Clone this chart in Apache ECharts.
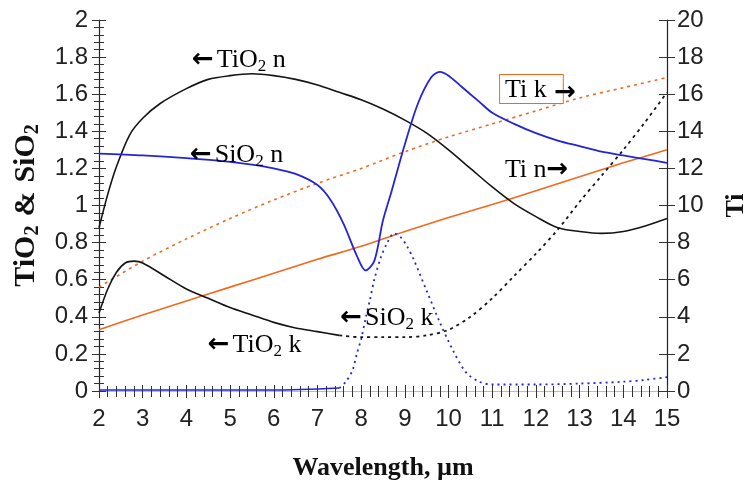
<!DOCTYPE html>
<html>
<head>
<meta charset="utf-8">
<script src="https://cdn.jsdelivr.net/npm/echarts@6/dist/echarts.min.js"></script>
<style>
  html, body { margin: 0; padding: 0; background: #fff; }
  #chart { width: 746px; height: 489px; }
</style>
</head>
<body>
<div id="chart"></div>
<script>
// Optical constants vs wavelength (µm)
// TiO2 and SiO2 on the left axis, Ti on the right axis

const tio2N = [
  [2, 0.88], [2.2, 1.06], [2.4, 1.21], [2.7, 1.38], [3, 1.47], [3.4, 1.55],
  [4, 1.63], [4.5, 1.68], [5, 1.70], [5.5, 1.71], [6, 1.70], [6.5, 1.68],
  [7, 1.65], [7.5, 1.61], [8, 1.57], [8.5, 1.52], [9, 1.46], [9.5, 1.39],
  [10, 1.30], [10.5, 1.20], [11, 1.10], [11.5, 1.01], [12, 0.94],
  [12.5, 0.88], [13, 0.86], [13.5, 0.85], [14, 0.86], [14.5, 0.89], [15, 0.93]
];

const tio2K = [
  [2, 0.42], [2.2, 0.55], [2.4, 0.64], [2.6, 0.69], [2.8, 0.70], [3, 0.69],
  [3.5, 0.62], [4, 0.55], [4.5, 0.50], [5, 0.45], [5.5, 0.41], [6, 0.37],
  [6.5, 0.34], [7, 0.32], [7.5, 0.30], [8, 0.29], [8.5, 0.29], [9, 0.29],
  [9.5, 0.30], [10, 0.33], [10.5, 0.40], [11, 0.50], [11.5, 0.62],
  [12, 0.74], [12.5, 0.87], [13, 1.02], [13.5, 1.16], [14, 1.30],
  [14.5, 1.45], [15, 1.61]
];
const tio2KSolidEnd = 7.5;

const sio2N = [
  [2, 1.28], [3, 1.27], [4, 1.255], [5, 1.235], [5.5, 1.22], [6, 1.20],
  [6.5, 1.17], [7, 1.11], [7.3, 1.03], [7.6, 0.90], [7.9, 0.73], [8.1, 0.65],
  [8.3, 0.70], [8.5, 0.92], [8.7, 1.08], [9, 1.33], [9.3, 1.55], [9.6, 1.69],
  [9.8, 1.72], [10, 1.70], [10.3, 1.64], [10.7, 1.56], [11, 1.50],
  [11.5, 1.44], [12, 1.39], [12.5, 1.35], [13, 1.32], [13.5, 1.29],
  [14, 1.27], [14.5, 1.25], [15, 1.23]
];

const sio2K = [
  [2, 0.005], [4, 0.005], [6, 0.005], [7.5, 0.016], [7.65, 0.05], [7.8, 0.11],
  [7.9, 0.20], [8, 0.28], [8.1, 0.39], [8.2, 0.49], [8.3, 0.60], [8.45, 0.72],
  [8.6, 0.80], [8.75, 0.85], [8.9, 0.83], [9.05, 0.78], [9.2, 0.71],
  [9.5, 0.54], [9.8, 0.37], [10.1, 0.22], [10.4, 0.10], [10.7, 0.05],
  [11, 0.035], [12, 0.035], [13, 0.04], [14, 0.05], [14.5, 0.06], [15, 0.075]
];
const sio2KSolidEnd = 7.5;

const tiN = [
  [2, 3.3], [3, 4.1], [4, 4.85], [5, 5.6], [6, 6.35], [7, 7.1], [8, 7.8],
  [9, 8.6], [10, 9.35], [11, 10.05], [12, 10.8], [13, 11.55], [14, 12.3], [15, 13.0]
];

const tiK = [
  [2, 5.6], [3, 7.0], [4, 8.2], [5, 9.3], [6, 10.3], [7, 11.2], [8, 12.0],
  [9, 12.9], [10, 13.7], [11, 14.4], [12, 15.1], [13, 15.8], [14, 16.35], [15, 16.9]
];

// [min, max, major step, minor step]
const xTicks = [2, 15, 1, 0.2];
const leftTicks = [0, 2, 0.2, 0.04];
const rightTicks = [0, 20, 2];

const BLACK = '#141414';
const BLUE = '#2424d8';
const ORANGE = '#f06a1e';
const SERIF = '"Liberation Serif", "Times New Roman", serif';
const SANS = '"Liberation Sans", Arial, sans-serif';

function upTo(data, xEnd) { return data.filter(p => p[0] <= xEnd); }
function from(data, xStart) { return data.filter(p => p[0] >= xStart); }

const chart = echarts.init(document.getElementById('chart'), null, { renderer: 'canvas' });

const tickLabel = { color: '#222', fontFamily: SANS, fontSize: 24 };
const axisLine = { lineStyle: { color: '#222', width: 1.2 } };
const tickLine = { color: '#333', width: 1 };

function lineSeries(name, data, color, yAxisIndex, type, width) {
  return {
    name, type: 'line', data, yAxisIndex, xAxisIndex: 0,
    showSymbol: false, symbol: 'none', smooth: 0.3,
    lineStyle: { color, width: width || 1.6, type: type || 'solid' },
    emphasis: { disabled: true }, silent: true, z: 3
  };
}

// Tick-only axis (no line, no labels), used to draw ticks on both sides of an axis line
function tickAxis(range, step, position, inside, length) {
  return {
    type: 'value', min: range[0], max: range[1], interval: step, position,
    axisLine: { show: false },
    axisTick: { show: true, inside, length, lineStyle: tickLine },
    axisLabel: { show: false }, splitLine: { show: false }
  };
}

const option = {
  animation: false,
  grid: { left: 99, right: 79, top: 20, bottom: 98, containLabel: false, outerBoundsMode: 'none' },
  xAxis: [
    {
      type: 'value', min: xTicks[0], max: xTicks[1], interval: xTicks[2],
      position: 'bottom',
      name: 'Wavelength, µm', nameLocation: 'middle', nameGap: 64,
      nameTextStyle: { fontFamily: SERIF, fontWeight: 'bold', fontSize: 26, color: '#111' },
      axisLine, axisTick: { show: true, length: 7, lineStyle: tickLine },
      axisLabel: Object.assign({ margin: 16 }, tickLabel),
      splitLine: { show: false }
    },
    tickAxis(xTicks, xTicks[2], 'bottom', true, 6),
    tickAxis(xTicks, xTicks[3], 'bottom', true, 5),
    tickAxis(xTicks, xTicks[3], 'bottom', false, 6),
    {
      type: 'value', min: xTicks[0], max: xTicks[1], position: 'top',
      axisLine: { show: true, lineStyle: { color: '#bbb', width: 1 } },
      axisTick: { show: false }, axisLabel: { show: false }, splitLine: { show: false }
    }
  ],
  yAxis: [
    {
      type: 'value', min: leftTicks[0], max: leftTicks[1], interval: leftTicks[2],
      position: 'left',
      name: '{t|TiO}{s|2}{g|&}{t|SiO}{s|2}', nameLocation: 'middle', nameGap: 56, nameRotate: 90,
      nameTextStyle: {
        rich: {
          t: { fontFamily: SERIF, fontWeight: 'bold', fontSize: 30, color: '#111' },
          g: { fontFamily: SERIF, fontWeight: 'bold', fontSize: 30, color: '#111', padding: [0, 9, 0, 9] },
          s: { fontFamily: SERIF, fontWeight: 'bold', fontSize: 20, color: '#111', padding: [14, 0, 0, 0] }
        }
      },
      axisLine, axisTick: { show: true, length: 7, lineStyle: tickLine },
      axisLabel: Object.assign({ margin: 11, formatter: v => String(+v.toFixed(1)) }, tickLabel),
      splitLine: { show: false }
    },
    {
      type: 'value', min: rightTicks[0], max: rightTicks[1], interval: rightTicks[2],
      position: 'right',
      name: 'Ti', nameLocation: 'middle', nameGap: 56, nameRotate: 90,
      nameTextStyle: { fontFamily: SERIF, fontWeight: 'bold', fontSize: 26, color: '#111' },
      axisLine, axisTick: { show: true, length: 8, lineStyle: tickLine },
      axisLabel: Object.assign({ margin: 10 }, tickLabel),
      splitLine: { show: false }
    },
    tickAxis(leftTicks, leftTicks[2], 'left', true, 7),
    tickAxis(leftTicks, leftTicks[3], 'left', true, 5),
    tickAxis(leftTicks, leftTicks[3], 'left', false, 5),
    tickAxis(rightTicks, rightTicks[2], 'right', true, 8)
  ],
  series: [
    lineSeries('Ti k', tiK, ORANGE, 1, [3, 4], 1.6),
    lineSeries('Ti n', tiN, ORANGE, 1, 'solid', 1.6),
    lineSeries('TiO2 n', tio2N, BLACK, 0, 'solid', 1.6),
    lineSeries('TiO2 k', upTo(tio2K, tio2KSolidEnd), BLACK, 0, 'solid', 1.6),
    lineSeries('TiO2 k (dotted)', from(tio2K, tio2KSolidEnd), BLACK, 0, [3, 4], 1.8),
    lineSeries('SiO2 n', sio2N, BLUE, 0, 'solid', 1.8),
    lineSeries('SiO2 k', upTo(sio2K, sio2KSolidEnd), BLUE, 0, 'solid', 1.6),
    lineSeries('SiO2 k (dotted)', from(sio2K, sio2KSolidEnd), BLUE, 0, [2, 4], 1.8)
  ]
};

chart.setOption(option);

// In-plot annotations, anchored to data coordinates on the left axis scale
function richLabel(color, size) {
  return {
    t: { fontFamily: SERIF, fontSize: size, color },
    s: { fontFamily: SERIF, fontSize: Math.round(size * 0.65), color, padding: [13, 0, 0, 0] },
    a: { fontFamily: 'DejaVu Sans', fontSize: size, color, fontWeight: 'bold', padding: [0, 3, 0, 0] }
  };
}

const notes = [
  { at: [4.13, 1.784], text: '{a|←}{t|TiO}{s|2}{t| n}', color: BLACK },
  { at: [4.08, 1.272], text: '{a|←}{t|SiO}{s|2}{t| n}', color: BLUE },
  { at: [7.52, 0.394], text: '{a|←}{t|SiO}{s|2}{t| k}', color: BLUE },
  { at: [4.49, 0.248], text: '{a|←}{t|TiO}{s|2}{t| k}', color: BLACK },
  { at: [11.29, 1.191], text: '{t|Ti n}{a|→}', color: ORANGE },
  { at: [12.42, 1.606], text: '{a|→}', color: ORANGE }
];

// Boxed "Ti k" label (its arrow is the last note above, drawn over the box edge)
const boxPt = chart.convertToPixel({ xAxisIndex: 0, yAxisIndex: 0 }, [11.18, 1.628]);
const graphics = [{
  type: 'text', x: boxPt[0], y: boxPt[1], silent: true, z: 9,
  style: {
    text: '{b|Ti k}', verticalAlign: 'middle', align: 'left',
    rich: {
      b: { fontFamily: SERIF, fontSize: 26, color: ORANGE, borderColor: ORANGE, borderWidth: 1, padding: [2, 16, 0, 5], backgroundColor: '#fff' }
    }
  }
}];

notes.forEach(n => {
  const p = chart.convertToPixel({ xAxisIndex: 0, yAxisIndex: 0 }, n.at);
  graphics.push({
    type: 'text', x: p[0], y: p[1], silent: true, z: 10,
    style: { text: n.text, rich: richLabel(n.color, 26), align: 'left', verticalAlign: 'middle' }
  });
});

chart.setOption({ graphic: graphics });
</script>
</body>
</html>
